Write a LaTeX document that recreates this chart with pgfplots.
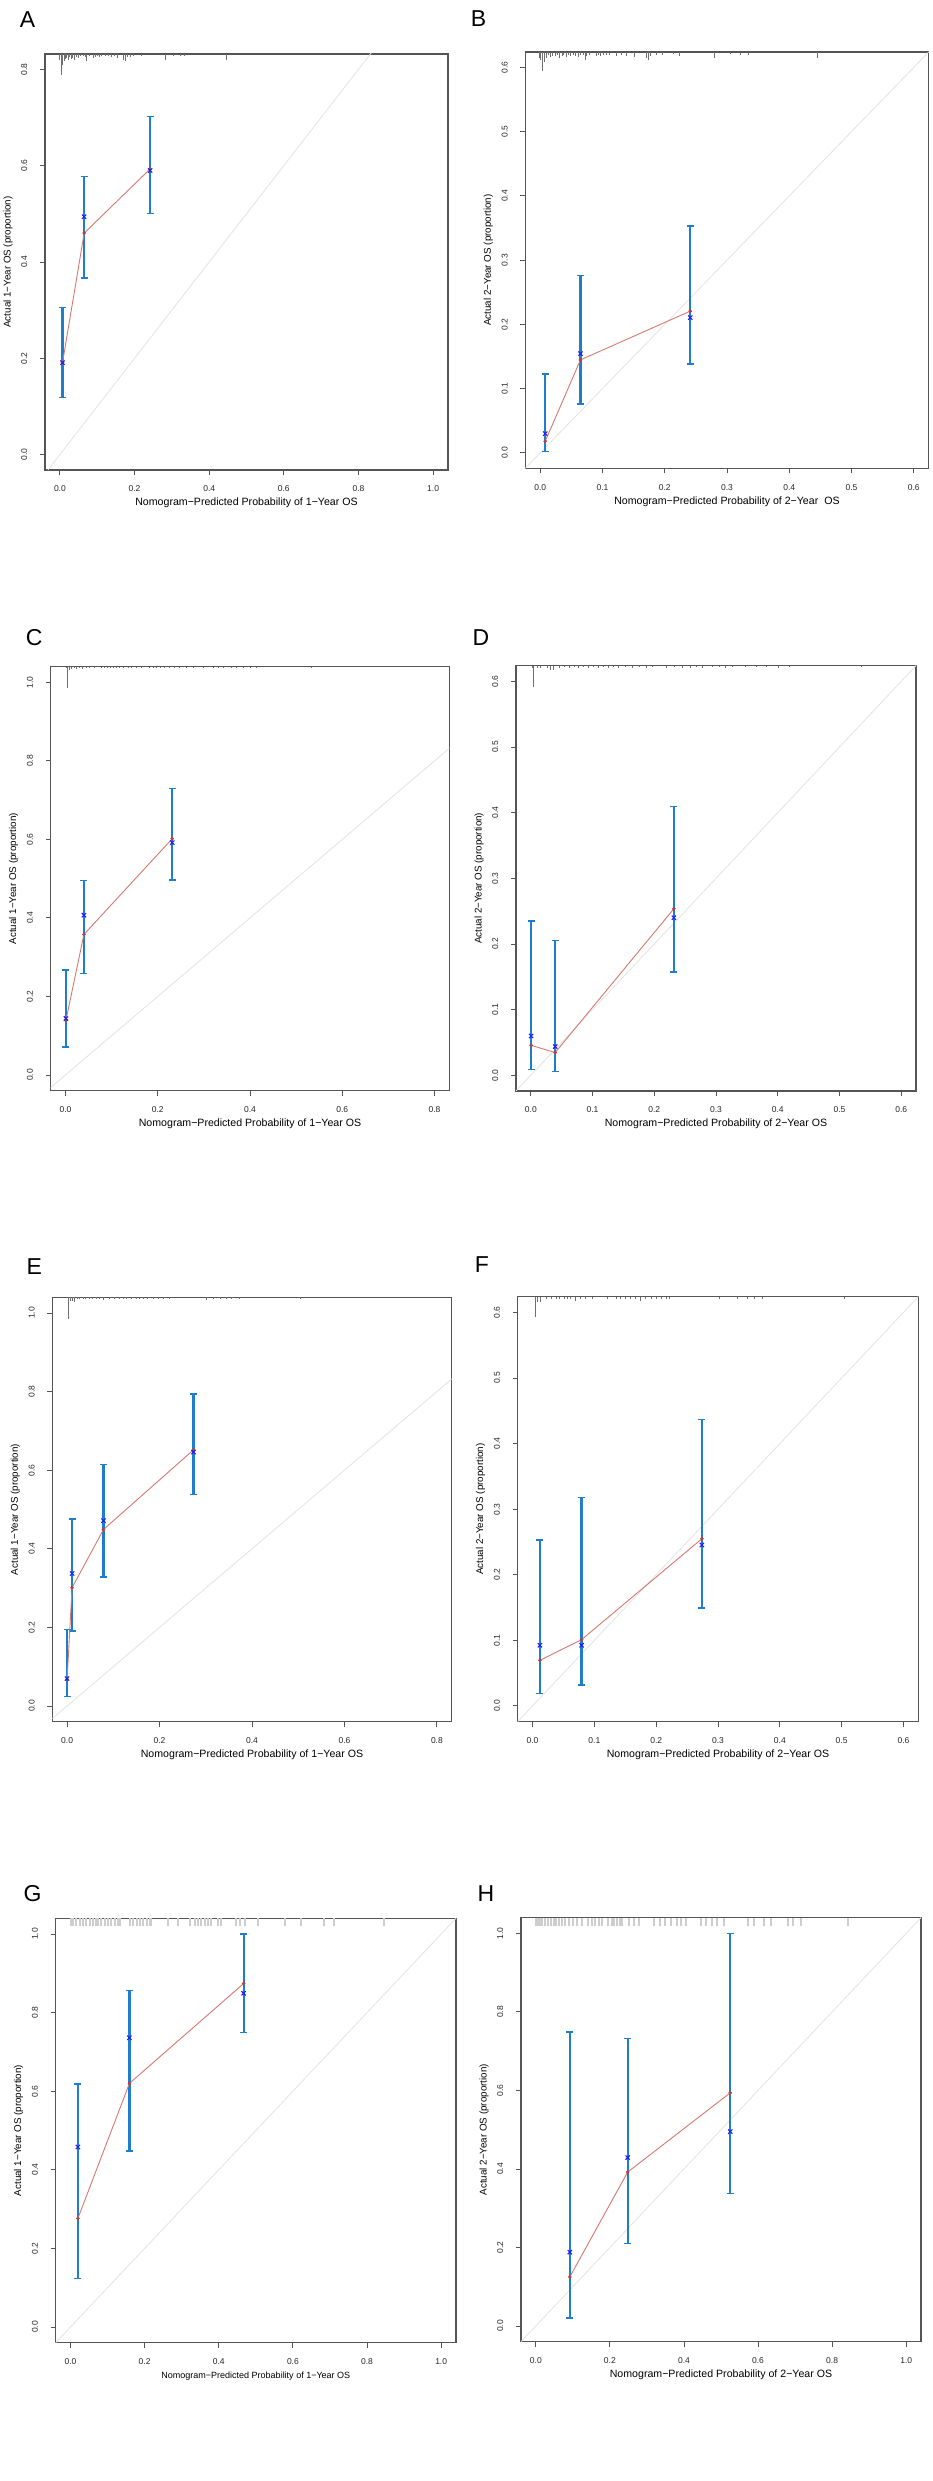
\documentclass[border=0pt]{standalone}
\usepackage{fontspec}
\setmainfont{Liberation Sans}
\usepackage{pgfplots}
\usepackage{pgfplotstable}
\pgfplotsset{compat=1.18}

\definecolor{errblue}{RGB}{30,125,205}
\definecolor{redl}{RGB}{215,120,110}
\definecolor{redd}{RGB}{185,65,55}
\definecolor{bluex}{RGB}{30,30,240}
\definecolor{diagc}{RGB}{226,226,226}
\definecolor{framec}{RGB}{85,85,85}
\definecolor{rugc}{RGB}{110,110,110}
\definecolor{ruglight}{RGB}{205,205,205}

% calibration points: x, apparent (red), bias-corrected (blue), CI midpoint, CI half-width
\pgfplotstableread{
x      red    blue   mid    half
0.007  0.191  0.191  0.212  0.093
0.065  0.460  0.494  0.472  0.105
0.2415 0.593  0.590  0.6015 0.1005
}\dataA
\pgfplotstableread{
x      red    blue   mid    half
0.008  0.018  0.030  0.0627 0.0602
0.0646 0.1447 0.1544 0.176  0.100
0.241  0.2206 0.2104 0.2455 0.1075
}\dataB
\pgfplotstableread{
x      red    blue   mid    half
0.001  0.139  0.144  0.169  0.098
0.040  0.358  0.407  0.377  0.119
0.2315 0.602  0.592  0.6135 0.1165
}\dataC
\pgfplotstableread{
x      red    blue   mid    half
0.0005 0.0456 0.0598 0.1218 0.1132
0.0394 0.0345 0.0436 0.1055 0.0999
0.2317 0.2536 0.240  0.283  0.126
}\dataD
\pgfplotstableread{
x      red    blue   mid    half
0.000  0.0679 0.0696 0.1094 0.0857
0.0108 0.301  0.337  0.3335 0.1425
0.0787 0.449  0.4716 0.4715 0.1435
0.2736 0.652  0.646  0.6663 0.1277
}\dataE
\pgfplotstableread{
x      red    blue   mid    half
0.0119 0.0696 0.0925 0.1362 0.1169
0.0793 0.1011 0.0925 0.175  0.143
0.274  0.255  0.2454 0.2932 0.1438
}\dataF
\pgfplotstableread{
x      red    blue   mid    half
0.0198 0.276  0.458  0.3705 0.2475
0.159  0.620  0.736  0.652  0.204
0.467  0.874  0.849  0.8745 0.1255
}\dataG
\pgfplotstableread{
x      red    blue   mid    half
0.0918 0.125  0.188  0.3847 0.3643
0.248  0.392  0.429  0.4715 0.2615
0.525  0.594  0.495  0.669  0.331
}\dataH

% rug (spike histogram) of predicted probabilities: x, spike length
\pgfplotstableread{
x l
0.000 0.012
0.003 0.010
0.005 0.043
0.008 0.022
0.011 0.014
0.014 0.010
0.018 0.008
0.022 0.012
0.026 0.006
0.031 0.010
0.035 0.008
0.038 0.012
0.045 0.006
0.049 0.008
0.056 0.005
0.062 0.004
0.068 0.006
0.072 0.014
0.080 0.004
0.090 0.008
0.095 0.006
0.100 0.005
0.106 0.006
0.112 0.004
0.121 0.005
0.129 0.004
0.139 0.006
0.147 0.004
0.153 0.008
0.170 0.012
0.175 0.015
0.182 0.006
0.190 0.006
0.196 0.004
0.219 0.004
0.282 0.012
0.304 0.004
0.322 0.004
0.335 0.004
0.447 0.012
}\rugA
\pgfplotstableread{
x l
-0.001 0.010
0.001 0.012
0.004 0.030
0.0075 0.016
0.0096 0.010
0.013 0.004
0.016 0.008
0.019 0.006
0.024 0.006
0.027 0.004
0.031 0.010
0.035 0.006
0.037 0.004
0.042 0.008
0.045 0.004
0.049 0.006
0.053 0.004
0.057 0.006
0.061 0.008
0.064 0.004
0.069 0.004
0.072 0.012
0.075 0.006
0.079 0.004
0.090 0.006
0.093 0.004
0.097 0.006
0.101 0.004
0.106 0.004
0.112 0.004
0.123 0.006
0.131 0.004
0.139 0.006
0.152 0.008
0.171 0.010
0.174 0.012
0.177 0.006
0.187 0.004
0.197 0.004
0.214 0.003
0.223 0.006
0.280 0.010
0.305 0.003
0.322 0.004
0.335 0.004
0.446 0.010
}\rugB
\pgfplotstableread{
x l
0.002 0.004
0.004 0.055
0.009 0.008
0.013 0.006
0.020 0.004
0.025 0.005
0.031 0.004
0.038 0.005
0.046 0.004
0.053 0.004
0.064 0.004
0.078 0.004
0.085 0.004
0.092 0.004
0.098 0.004
0.105 0.004
0.111 0.004
0.118 0.004
0.126 0.004
0.136 0.004
0.143 0.003
0.154 0.004
0.165 0.003
0.183 0.004
0.190 0.004
0.197 0.004
0.205 0.003
0.215 0.004
0.226 0.004
0.237 0.004
0.248 0.003
0.263 0.004
0.277 0.003
0.299 0.003
0.320 0.004
0.331 0.004
0.342 0.004
0.360 0.003
0.371 0.004
0.385 0.004
0.400 0.004
0.414 0.003
0.534 0.003
}\rugC
\pgfplotstableread{
x l
0.002 0.003
0.005 0.032
0.011 0.004
0.016 0.003
0.027 0.003
0.032 0.006
0.036 0.006
0.046 0.003
0.055 0.002
0.062 0.003
0.070 0.002
0.078 0.003
0.086 0.002
0.094 0.003
0.102 0.002
0.110 0.003
0.118 0.002
0.126 0.003
0.134 0.002
0.142 0.003
0.154 0.002
0.165 0.003
0.176 0.002
0.187 0.003
0.197 0.002
0.219 0.003
0.232 0.002
0.245 0.003
0.258 0.003
0.268 0.002
0.278 0.003
0.294 0.002
0.305 0.002
0.316 0.003
0.327 0.002
0.348 0.002
0.365 0.002
0.381 0.002
0.402 0.003
0.419 0.002
0.535 0.002
}\rugD
\pgfplotstableread{
x l
0.004 0.055
0.007 0.010
0.012 0.010
0.017 0.011
0.022 0.005
0.027 0.004
0.035 0.005
0.040 0.004
0.049 0.005
0.056 0.004
0.064 0.004
0.071 0.004
0.078 0.006
0.092 0.004
0.103 0.004
0.114 0.004
0.121 0.004
0.129 0.004
0.139 0.004
0.150 0.004
0.157 0.004
0.165 0.004
0.175 0.004
0.186 0.004
0.197 0.004
0.208 0.004
0.222 0.004
0.302 0.008
0.316 0.004
0.331 0.004
0.345 0.004
0.356 0.004
0.374 0.004
0.504 0.004
}\rugE
\pgfplotstableread{
x l
0.004 0.031
0.008 0.008
0.013 0.008
0.022 0.004
0.030 0.003
0.038 0.004
0.043 0.003
0.051 0.004
0.057 0.003
0.062 0.004
0.070 0.007
0.078 0.003
0.086 0.004
0.097 0.003
0.121 0.003
0.135 0.004
0.143 0.003
0.151 0.003
0.159 0.004
0.167 0.003
0.175 0.006
0.183 0.003
0.192 0.003
0.200 0.004
0.208 0.003
0.216 0.003
0.221 0.004
0.302 0.004
0.332 0.003
0.348 0.003
0.359 0.003
0.372 0.004
0.505 0.003
}\rugF
\pgfplotstableread{
x l
0.000 0.02
0.003 0.02
0.007 0.02
0.016 0.02
0.025 0.02
0.034 0.02
0.043 0.02
0.052 0.02
0.061 0.02
0.070 0.02
0.075 0.02
0.083 0.02
0.092 0.02
0.101 0.02
0.110 0.02
0.119 0.02
0.128 0.02
0.133 0.02
0.160 0.02
0.169 0.02
0.178 0.02
0.187 0.02
0.196 0.02
0.205 0.02
0.214 0.02
0.218 0.02
0.263 0.02
0.290 0.02
0.322 0.02
0.335 0.02
0.344 0.02
0.353 0.02
0.362 0.02
0.371 0.02
0.380 0.02
0.398 0.02
0.407 0.02
0.447 0.02
0.456 0.02
0.470 0.02
0.506 0.02
0.578 0.02
0.623 0.02
0.685 0.02
0.712 0.02
0.847 0.02
}\rugG
\pgfplotstableread{
x l
0.000 0.02
0.006 0.02
0.012 0.02
0.018 0.02
0.025 0.02
0.032 0.02
0.040 0.02
0.048 0.02
0.055 0.02
0.063 0.02
0.070 0.02
0.078 0.02
0.090 0.02
0.100 0.02
0.112 0.02
0.125 0.02
0.140 0.02
0.152 0.02
0.160 0.02
0.170 0.02
0.180 0.02
0.195 0.02
0.205 0.02
0.212 0.02
0.220 0.02
0.228 0.02
0.234 0.02
0.252 0.02
0.265 0.02
0.279 0.02
0.320 0.02
0.335 0.02
0.350 0.02
0.365 0.02
0.380 0.02
0.392 0.02
0.405 0.02
0.446 0.02
0.460 0.02
0.475 0.02
0.490 0.02
0.509 0.02
0.572 0.02
0.590 0.02
0.617 0.02
0.635 0.02
0.680 0.02
0.695 0.02
0.716 0.02
0.844 0.02
}\rugH

\pgfplotsset{
  cal/.style={
    scale only axis, clip=true,
    axis line style={draw=framec, line width=1.2pt},
    tick pos=left, tick align=outside, major tick length=5pt,
    tick style={draw=framec, line width=0.9pt},
    tick label style={font=\fontsize{8.5}{10}\selectfont, text=black!85},
    xticklabel style={anchor=center, yshift=-14pt},
    yticklabel style={xshift=-15.7pt, rotate=90, anchor=center},
    /pgf/number format/fixed,
    /pgf/number format/fixed zerofill,
    /pgf/number format/precision=1,
    /pgf/number format/assume math mode=true,
    xlabel style={font=\fontsize{10.6}{12}\selectfont, at={([yshift=-33pt]axis description cs:0.5,0)}, anchor=center},
    ylabel style={font=\fontsize{9.8}{12}\selectfont, at={([xshift=-37pt]axis description cs:0,0.5)}, anchor=center},
  },
  diag/.style={draw=diagc, line width=0.8pt},
  redline/.style={draw=redl, line width=0.9pt, mark=*, mark size=1.7pt, mark options={fill=redd, draw=redd, line width=0.2pt}},
  bluepts/.style={only marks, mark=x, mark size=3pt, mark options={draw=bluex, line width=1.1pt}},
  errbar/.style={draw=none, mark=none, error bars/.cd, y dir=both, y explicit, error mark=|, error mark options={draw=errblue, line width=1.4pt, mark size=3.5pt}, error bar style={draw=errblue, line width=2.2pt}},
  rug/.style={draw=none, mark=none, error bars/.cd, y dir=minus, y explicit, error mark=none, error bar style={draw=rugc, line width=1pt}},
  ruglt/.style={draw=none, mark=none, error bars/.cd, y dir=minus, y explicit, error mark=none, error bar style={draw=ruglight, line width=2pt}},
}

\begin{document}
\begin{tikzpicture}
\useasboundingbox (0,0) rectangle (932pt,2481pt);

% ---------- A ----------
\begin{axis}[cal, at={(45pt,2011pt)}, anchor=south west, width=403pt, height=416pt,
  xmin=-0.04, xmax=1.04, ymin=-0.032, ymax=0.832,
  xtick={0,0.2,0.4,0.6,0.8,1}, ytick={0,0.2,0.4,0.6,0.8},
  xlabel={Nomogram−Predicted Probability of 1−Year OS},
  ylabel={Actual 1−Year OS (proportion)}]
\addplot[diag] coordinates {(-0.1,-0.1) (1.2,1.2)};
\addplot[rug] table[x=x, y expr=0.832, y error=l] {\rugA};
\addplot[errbar] table[x=x, y=mid, y error=half] {\dataA};
\addplot[redline] table[x=x, y=red] {\dataA};
\addplot[bluepts] table[x=x, y=blue] {\dataA};
\end{axis}

% ---------- B ----------
\begin{axis}[cal, at={(525.3pt,2012.7pt)}, anchor=south west, width=403.4pt, height=416.3pt,
  xmin=-0.024, xmax=0.624, ymin=-0.024, ymax=0.624,
  xtick={0,0.1,0.2,0.3,0.4,0.5,0.6}, ytick={0,0.1,0.2,0.3,0.4,0.5,0.6},
  xlabel={Nomogram−Predicted Probability of 2−Year\hspace{0.3em} OS},
  ylabel={Actual 2−Year OS (proportion)}]
\addplot[diag] coordinates {(-0.1,-0.1) (1.2,1.2)};
\addplot[rug] table[x=x, y expr=0.624, y error=l] {\rugB};
\addplot[errbar] table[x=x, y=mid, y error=half] {\dataB};
\addplot[redline] table[x=x, y=red] {\dataB};
\addplot[bluepts] table[x=x, y=blue] {\dataB};
\end{axis}

% ---------- C ----------
\begin{axis}[cal, at={(50.7pt,1390.3pt)}, anchor=south west, width=398.6pt, height=424pt,
  xmin=-0.032, xmax=0.832, ymin=-0.04, ymax=1.04,
  xtick={0,0.2,0.4,0.6,0.8}, ytick={0,0.2,0.4,0.6,0.8,1},
  xlabel={Nomogram−Predicted Probability of 1−Year OS},
  ylabel={Actual 1−Year OS (proportion)}]
\addplot[diag] coordinates {(-0.1,-0.1) (1.2,1.2)};
\addplot[rug] table[x=x, y expr=1.04, y error=l] {\rugC};
\addplot[errbar] table[x=x, y=mid, y error=half] {\dataC};
\addplot[redline] table[x=x, y=red] {\dataC};
\addplot[bluepts] table[x=x, y=blue] {\dataC};
\end{axis}

% ---------- D ----------
\begin{axis}[cal, at={(516pt,1390pt)}, anchor=south west, width=400pt, height=425.3pt,
  xmin=-0.024, xmax=0.624, ymin=-0.024, ymax=0.624,
  xtick={0,0.1,0.2,0.3,0.4,0.5,0.6}, ytick={0,0.1,0.2,0.3,0.4,0.5,0.6},
  xlabel={Nomogram−Predicted Probability of 2−Year OS},
  ylabel={Actual 2−Year OS (proportion)}]
\addplot[diag] coordinates {(-0.1,-0.1) (1.2,1.2)};
\addplot[rug] table[x=x, y expr=0.624, y error=l] {\rugD};
\addplot[errbar] table[x=x, y=mid, y error=half] {\dataD};
\addplot[redline] table[x=x, y=red] {\dataD};
\addplot[bluepts] table[x=x, y=blue] {\dataD};
\end{axis}

% ---------- E ----------
\begin{axis}[cal, at={(52.3pt,759.3pt)}, anchor=south west, width=399.4pt, height=424.4pt,
  xmin=-0.032, xmax=0.832, ymin=-0.04, ymax=1.04,
  xtick={0,0.2,0.4,0.6,0.8}, ytick={0,0.2,0.4,0.6,0.8,1},
  xlabel={Nomogram−Predicted Probability of 1−Year OS},
  ylabel={Actual 1−Year OS (proportion)}]
\addplot[diag] coordinates {(-0.1,-0.1) (1.2,1.2)};
\addplot[rug] table[x=x, y expr=1.04, y error=l] {\rugE};
\addplot[errbar] table[x=x, y=mid, y error=half] {\dataE};
\addplot[redline] table[x=x, y=red] {\dataE};
\addplot[bluepts] table[x=x, y=blue] {\dataE};
\end{axis}

% ---------- F ----------
\begin{axis}[cal, at={(517.7pt,759.3pt)}, anchor=south west, width=400.6pt, height=425pt,
  xmin=-0.024, xmax=0.624, ymin=-0.024, ymax=0.624,
  xtick={0,0.1,0.2,0.3,0.4,0.5,0.6}, ytick={0,0.1,0.2,0.3,0.4,0.5,0.6},
  xlabel={Nomogram−Predicted Probability of 2−Year OS},
  ylabel={Actual 2−Year OS (proportion)}]
\addplot[diag] coordinates {(-0.1,-0.1) (1.2,1.2)};
\addplot[rug] table[x=x, y expr=0.624, y error=l] {\rugF};
\addplot[errbar] table[x=x, y=mid, y error=half] {\dataF};
\addplot[redline] table[x=x, y=red] {\dataF};
\addplot[bluepts] table[x=x, y=blue] {\dataF};
\end{axis}

% ---------- G ----------
\begin{axis}[cal, at={(55.7pt,138.3pt)}, anchor=south west, width=400.3pt, height=424.4pt,
  xmin=-0.04, xmax=1.04, ymin=-0.04, ymax=1.04,
  xtick={0,0.2,0.4,0.6,0.8,1}, ytick={0,0.2,0.4,0.6,0.8,1},
  xlabel style={font=\fontsize{9}{11}\selectfont},
  xlabel={Nomogram−Predicted Probability of 1−Year OS},
  ylabel={Actual 1−Year OS (proportion)}]
\addplot[diag] coordinates {(-0.1,-0.1) (1.2,1.2)};
\addplot[ruglt] table[x=x, y expr=1.04, y error=l] {\rugG};
\addplot[errbar] table[x=x, y=mid, y error=half] {\dataG};
\addplot[redline] table[x=x, y=red] {\dataG};
\addplot[bluepts] table[x=x, y=blue] {\dataG};
\end{axis}

% ---------- H ----------
\begin{axis}[cal, at={(521pt,139.3pt)}, anchor=south west, width=400pt, height=424pt,
  xmin=-0.04, xmax=1.04, ymin=-0.04, ymax=1.04,
  xtick={0,0.2,0.4,0.6,0.8,1}, ytick={0,0.2,0.4,0.6,0.8,1},
  xlabel={Nomogram−Predicted Probability of 2−Year OS},
  ylabel={Actual 2−Year OS (proportion)}]
\addplot[diag] coordinates {(-0.1,-0.1) (1.2,1.2)};
\addplot[ruglt] table[x=x, y expr=1.04, y error=l] {\rugH};
\addplot[errbar] table[x=x, y=mid, y error=half] {\dataH};
\addplot[redline] table[x=x, y=red] {\dataH};
\addplot[bluepts] table[x=x, y=blue] {\dataH};
\end{axis}

% panel letters
\begin{scope}[every node/.style={font=\fontsize{23}{23}\selectfont, anchor=center, inner sep=0pt}]
\node at (27.5pt,2461pt) {A};
\node at (478.5pt,2462pt) {B};
\node at (34.2pt,1843.7pt) {C};
\node at (481pt,1843.7pt) {D};
\node at (34.2pt,1214.3pt) {E};
\node at (481.8pt,1216pt) {F};
\node at (32.5pt,587pt) {G};
\node at (486pt,587.7pt) {H};
\end{scope}
\end{tikzpicture}
\end{document}
